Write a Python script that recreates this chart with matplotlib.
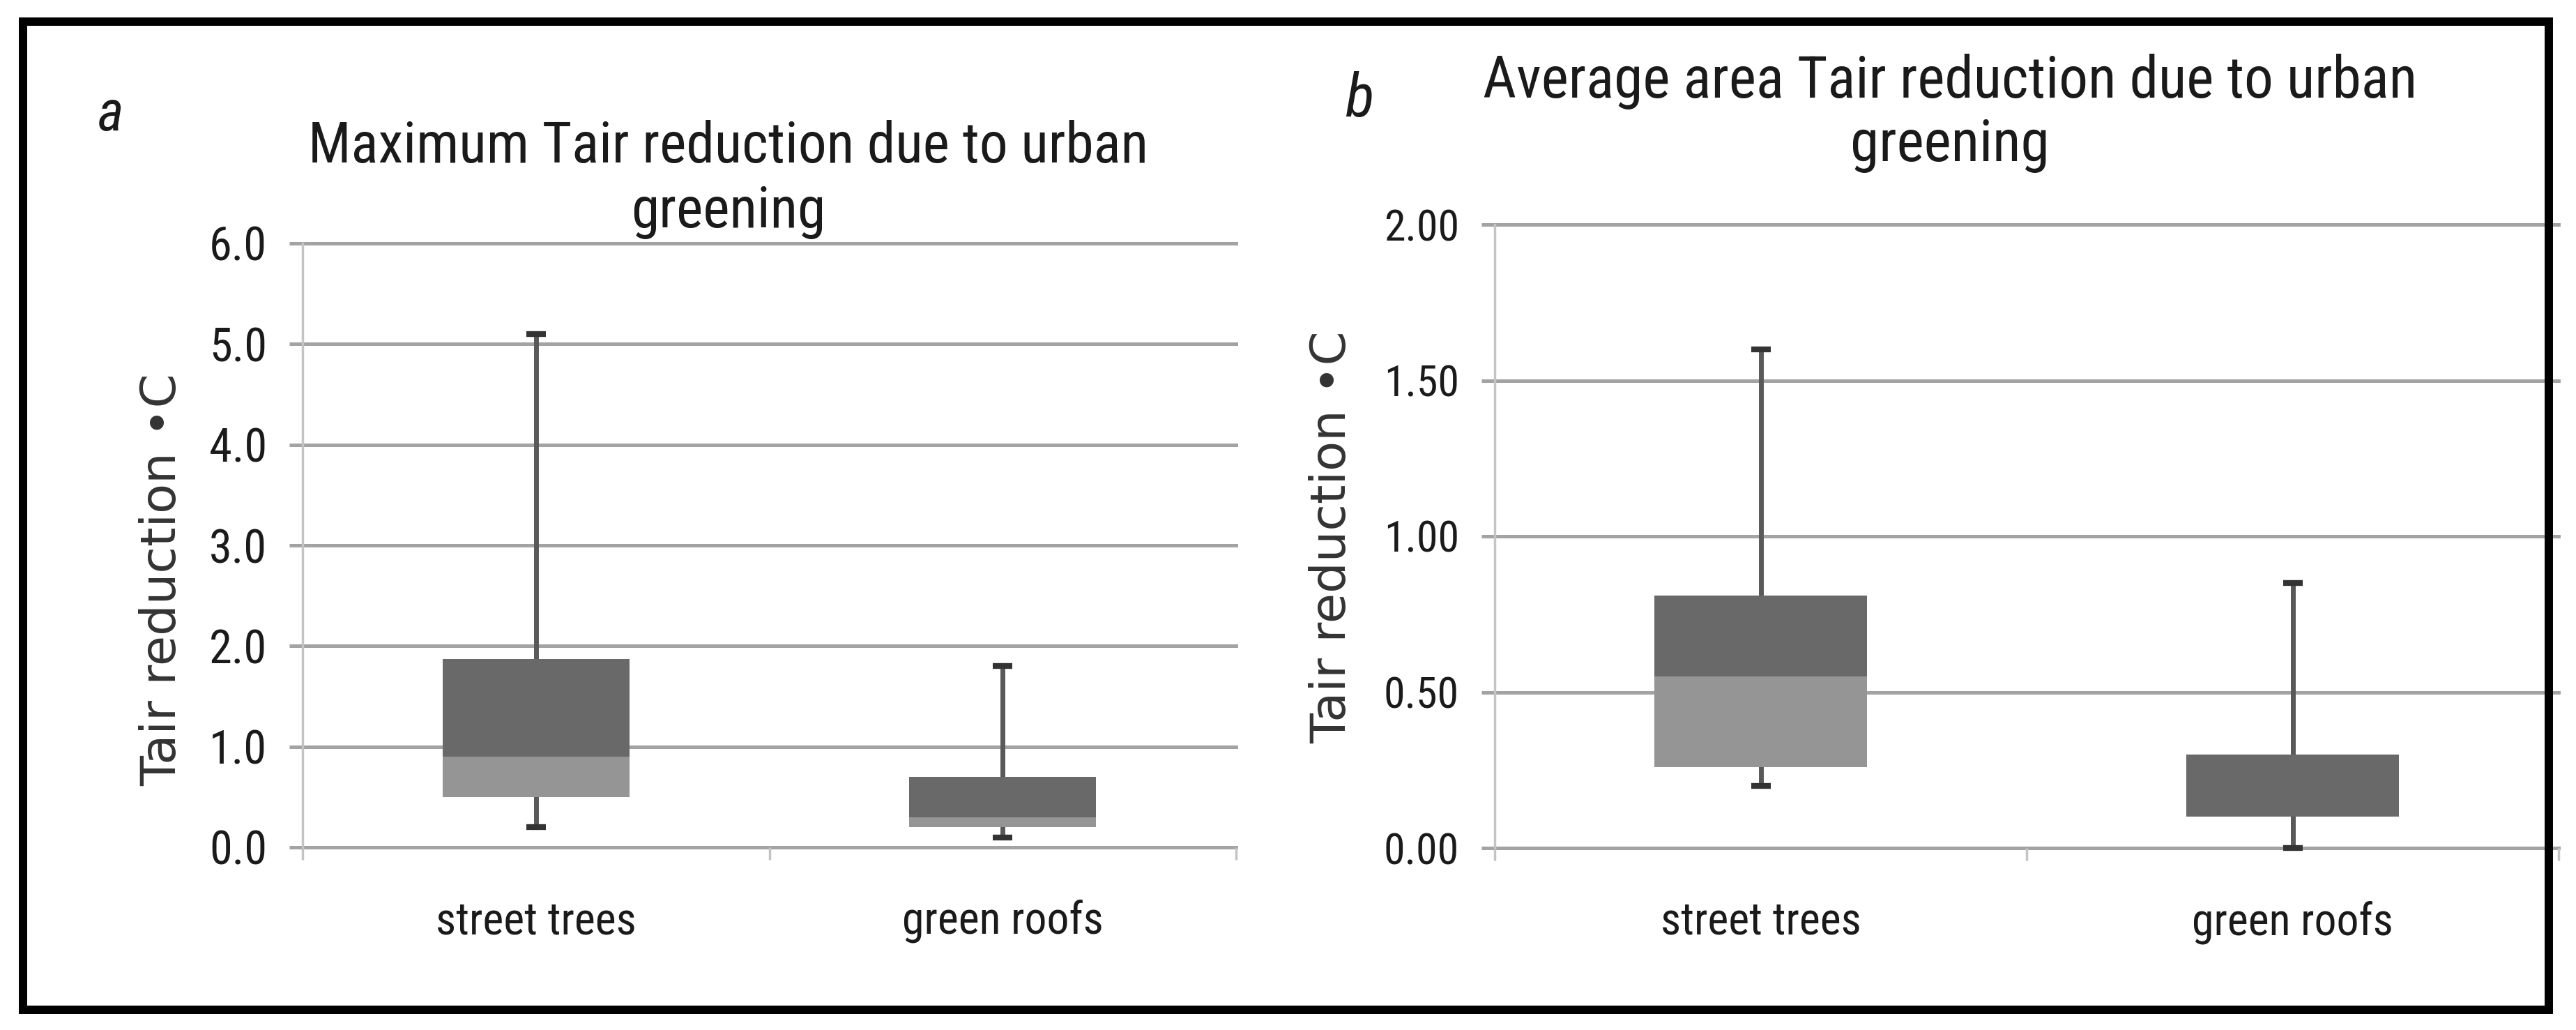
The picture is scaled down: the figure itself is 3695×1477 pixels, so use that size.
import numpy as np
import matplotlib
matplotlib.use("Agg")
import matplotlib.pyplot as plt
from matplotlib.patches import Rectangle
from matplotlib.font_manager import FontProperties

# data
categories = ["street trees", "green roofs"]

max_q1 = [0.5, 0.2]
max_median = [0.9, 0.3]
max_q3 = [1.87, 0.7]
max_low = [0.2, 0.1]
max_high = [5.1, 1.8]
max_ticks = [0, 1, 2, 3, 4, 5, 6]
max_ticklabels = ["0.0", "1.0", "2.0", "3.0", "4.0", "5.0", "6.0"]

avg_q1 = [0.26, 0.1]
avg_median = [0.55, 0.1]
avg_q3 = [0.81, 0.3]
avg_low = [0.2, 0.0]
avg_high = [1.6, 0.85]
avg_ticks = [0, 0.5, 1.0, 1.5, 2.0]
avg_ticklabels = ["0.00", "0.50", "1.00", "1.50", "2.00"]

title_a = "Maximum Tair reduction due to urban\ngreening"
title_b = "Average area Tair reduction due to urban\ngreening"
ylabel = "Tair reduction \u2022C"

W, H = 3695, 1477
narrow = ["DejaVu Sans Condensed", "Liberation Sans Narrow", "Roboto Condensed", "Roboto", "DejaVu Sans"]
light = "#959595"
dark = "#696969"
gridc = "#a3a3a3"
axc = "#c4c4c4"
txt = "#1a1a1a"


def fx(px):
    return px / W


def fy(py):
    return 1 - py / H


fig = plt.figure(figsize=(W / 100, H / 100), dpi=100)
fig.patch.set_facecolor("white")
renderer = fig.canvas.get_renderer()


def fit_size(s, target_px, family, style="normal", base=50.0):
    # font size (pt) that makes the widest line of s about target_px wide
    fp = FontProperties(family=family, style=style, stretch="condensed", size=base)
    w = max(renderer.get_text_width_height_descent(line, fp, ismath=False)[0]
            for line in s.split("\n"))
    return base * target_px / w


def lp_height(size, family):
    fp = FontProperties(family=family, stretch="condensed", size=size)
    w, h, d = renderer.get_text_width_height_descent("lp", fp, ismath=False)
    return h


tick_a_size = fit_size("6.0", 83, narrow)
tick_b_size = fit_size("2.00", 108, narrow)
cat_size = fit_size("street trees", 288, narrow)
ta_size = fit_size(title_a, 1206, narrow)
tb_size = fit_size(title_b, 1342, narrow)
ylab_size = fit_size(ylabel, 531, "DejaVu Sans")


def draw_panel(rect, q1, med, q3, low, high, ticks, ticklabels, tsize):
    ax = fig.add_axes(rect)
    x = np.arange(len(categories))
    q1, med, q3 = np.array(q1), np.array(med), np.array(q3)
    # whiskers under the boxes
    ax.vlines(x, low, high, color="#595959", lw=5, zorder=2)
    ax.plot(x, high, ls="none", marker="_", ms=20, mew=6, color="#333333", zorder=4, clip_on=False)
    ax.plot(x, low, ls="none", marker="_", ms=20, mew=6, color="#333333", zorder=4, clip_on=False)
    ax.bar(x, med - q1, bottom=q1, width=0.4, color=light, zorder=3)
    ax.bar(x, q3 - med, bottom=med, width=0.4, color=dark, zorder=3)
    for t in ticks:
        ax.axhline(t, color=gridc, lw=3.6, zorder=1, clip_on=False)
    ax.set_xlim(-0.5, len(categories) - 0.5)
    ax.set_ylim(ticks[0], ticks[-1])
    ax.set_yticks(ticks)
    ax.set_yticklabels(ticklabels, family=narrow, stretch="condensed", fontsize=tsize, color=txt)
    ax.tick_params(axis="y", length=13.7, width=3.6, color=gridc, pad=23)
    ax.set_xticks(x)
    ax.set_xticklabels(categories, family=narrow, stretch="condensed", fontsize=cat_size, color=txt)
    ax.tick_params(axis="x", which="major", length=0, pad=54)
    ax.set_xticks(np.arange(len(categories) + 1) - 0.5, minor=True)
    ax.tick_params(axis="x", which="minor", length=13, width=2.5, color=axc)
    for s in ["top", "right", "bottom"]:
        ax.spines[s].set_visible(False)
    ax.spines["left"].set_color(axc)
    ax.spines["left"].set_linewidth(2.5)
    ax.set_facecolor("none")
    return ax


ax_a = draw_panel([fx(434), fy(1215), fx(1773 - 434), (1215 - 349) / H],
                  max_q1, max_median, max_q3, max_low, max_high, max_ticks, max_ticklabels, tick_a_size)
ax_b = draw_panel([fx(2144), fy(1216), fx(3670 - 2144), (1216 - 322) / H],
                  avg_q1, avg_median, avg_q3, avg_low, avg_high, avg_ticks, avg_ticklabels, tick_b_size)

# titles (anchored on the baseline of the last line), panel letters, y labels
fig.text(fx(1045), fy(326), title_a, ha="center", va="baseline", multialignment="center",
         family=narrow, stretch="condensed", fontsize=ta_size,
         linespacing=97 / lp_height(ta_size, narrow), color=txt)
fig.text(fx(2797), fy(231), title_b, ha="center", va="baseline", multialignment="center",
         family=narrow, stretch="condensed", fontsize=tb_size,
         linespacing=94 / lp_height(tb_size, narrow), color=txt)
fig.text(fx(140), fy(187), "a", ha="left", va="baseline", family=narrow, stretch="condensed",
         style="italic", fontsize=58, color=txt)
fig.text(fx(1930), fy(167), "b", ha="left", va="baseline", family=narrow, stretch="condensed",
         style="italic", fontsize=62, color=txt)
fig.text(fx(233), fy(831), ylabel, rotation=90, ha="center", va="center",
         family="DejaVu Sans", fontsize=ylab_size, color="#333333")
fig.text(fx(1911), fy(770), ylabel, rotation=90, ha="center", va="center",
         family="DejaVu Sans", fontsize=ylab_size, color="#333333")

# outer black frame
fig.patches.append(Rectangle((fx(33), fy(1448)), fx(3656 - 33), (1448 - 31) / H,
                             transform=fig.transFigure, fill=False, lw=8.6,
                             edgecolor="black", zorder=10))

fig.savefig("out.png", dpi=100)
